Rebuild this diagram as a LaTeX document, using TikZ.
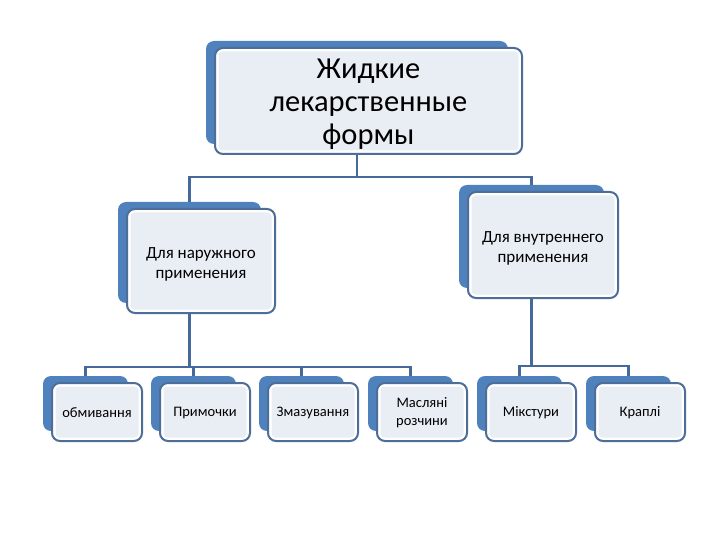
\documentclass[tikz,border=0pt]{standalone}
\usepackage{fontspec}
\setmainfont{Carlito}
\usetikzlibrary{backgrounds}
\definecolor{backc}{HTML}{4F81BD}
\definecolor{framec}{HTML}{4D6E98}
\definecolor{innerc}{HTML}{E9EEF5}
\definecolor{linec}{HTML}{44699A}
\tikzset{
  backbox/.style={fill=backc, rounded corners=8pt, inner sep=0pt, draw=none},
  frontbox/.style={draw=framec, line width=2pt, fill=white, rounded corners=8pt,
    inner sep=0pt,
    path picture={\fill[innerc, rounded corners=4pt]
      ([shift={(3.5pt,3.5pt)}]path picture bounding box.south west) rectangle
      ([shift={(-3.5pt,-3.5pt)}]path picture bounding box.north east);}},
  boxtext/.style={align=center, inner sep=0pt},
  conn/.style={draw=linec, line width=2.2pt}
}
% #1 name, #2 x1, #3 y1, #4 x2, #5 y2, #6 font, #7 text, #8 text shift down
\newcommand\tierbox[8]{%
  \node[backbox, minimum width={(#4-#2-5)*1pt}, minimum height={(#5-#3-3)*1pt}]
    (#1b) at ({(#2+#4)/2-11.5},{(#3+#5)/2-8.5}) {};
  \node[frontbox, minimum width={(#4-#2)*1pt}, minimum height={(#5-#3)*1pt}]
    (#1) at ({(#2+#4)/2},{(#3+#5)/2}) {};
  \node[boxtext, font=#6] (#1t) at ({(#2+#4)/2},{(#3+#5)/2+#8}) {#7};
}
\begin{document}
\begin{tikzpicture}[x=1pt,y=-1pt]
\useasboundingbox (0,0) rectangle (720,540);
\tierbox{top}{215}{48}{522}{154}{\fontsize{30.5}{33}\selectfont}{Жидкие\\лекарственные\\формы}{3}
\tierbox{ml}{127}{209}{275}{313}{\fontsize{17}{20}\selectfont}{Для наружного\\применения}{3}
\tierbox{mr}{468}{192}{618}{298}{\fontsize{17}{20}\selectfont}{Для внутреннего\\применения}{3}
\tierbox{b1}{52}{383}{142}{441}{\fontsize{14.5}{18}\selectfont}{обмивання}{1}
\tierbox{b2}{160}{383}{250}{441}{\fontsize{14.5}{18}\selectfont}{Примочки}{1}
\tierbox{b3}{268}{383}{358}{441}{\fontsize{14.5}{18}\selectfont}{Змазування}{1}
\tierbox{b4}{377}{383}{467}{441}{\fontsize{14.5}{18}\selectfont}{Масляні\\розчини}{1}
\tierbox{b5}{486}{383}{576}{441}{\fontsize{14.5}{18}\selectfont}{Мікстури}{1}
\tierbox{b6}{595}{383}{685}{441}{\fontsize{14.5}{18}\selectfont}{Краплі}{1}
\coordinate (h1) at (0,177);
\coordinate (h2) at (0,367);
\coordinate (h3) at (0,366);
\begin{scope}[on background layer]
\draw[conn] (topb.south) |- (mlb.north |- h1) -- (mlb.north);
\draw[conn] (topb.south |- h1) -| (mrb.north);
\draw[conn] (mlb.south) -- (mlb.south |- h2);
\draw[conn] (b1b.north) |- (b4b.north |- h2) -- (b4b.north);
\draw[conn] (b2b.north) -- (b2b.north |- h2);
\draw[conn] (b3b.north) -- (b3b.north |- h2);
\draw[conn] (mrb.south) -- (mrb.south |- h3);
\draw[conn] (b5b.north) |- (b6b.north |- h3) -- (b6b.north);
\end{scope}
\end{tikzpicture}
\end{document}
